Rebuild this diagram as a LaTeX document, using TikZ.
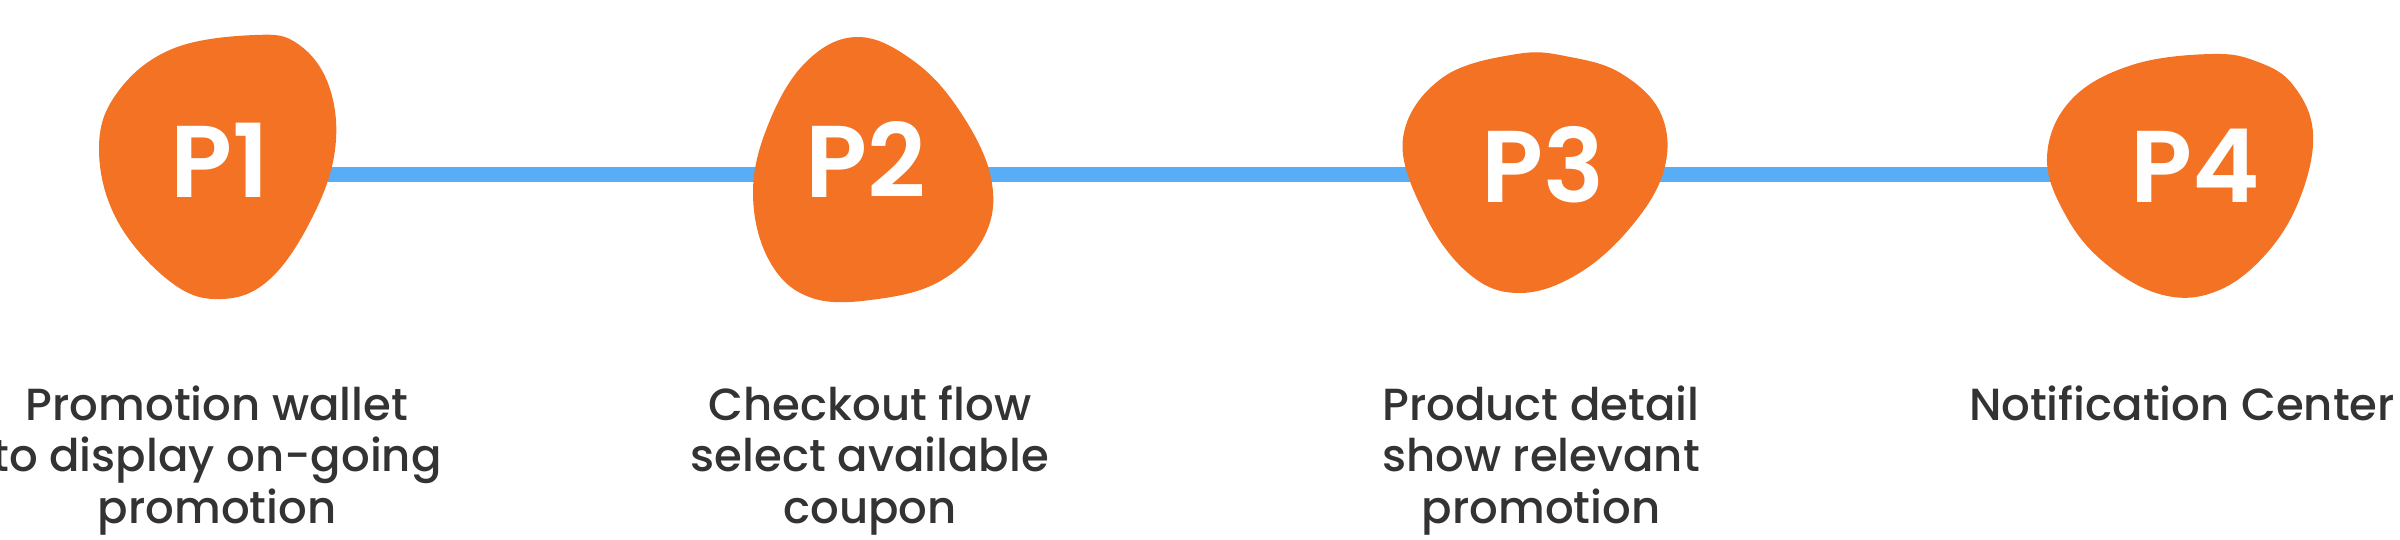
\documentclass[tikz,border=0pt]{standalone}
\usepackage{fontspec}
\setmainfont{Poppins}
\newfontfamily\labelfont{Poppins Medium}
\newfontfamily\pfont{Poppins SemiBold}
\definecolor{blob}{HTML}{F37224}
\definecolor{track}{HTML}{58ADF6}
\definecolor{ink}{HTML}{333333}
\tikzset{
  blobshape/.style={fill=blob, draw=none},
  ptext/.style={text=white, font=\pfont\fontsize{102}{102}\selectfont, inner sep=0pt, anchor=base},
  desc/.style={text=ink, font=\labelfont\fontsize{45}{51.5}\selectfont, align=center, inner sep=0pt, anchor=base},
  trackline/.style={draw=track, line width=15pt}
}
\begin{document}
\begin{tikzpicture}[x=1pt,y=-1pt]
\useasboundingbox (0,0) rectangle (2400,540);
% track
\coordinate (c1) at (220,174.5);
\coordinate (c2) at (866,174.5);
\coordinate (c3) at (1543,174.5);
\coordinate (c4) at (2195,174.5);
\draw[trackline] (c1) -- (c2) -- (c3) -- (c4);
% blobs
\fill[blobshape] plot[smooth cycle, tension=0.65] coordinates {
 (255,35) (172,49) (117,93) (99,150) (118,222) (172,283) (222,299)
 (270,279) (312,218) (335,150) (329,86) (298,44)};
\fill[blobshape] plot[smooth cycle, tension=0.65] coordinates {
 (858,37) (806,62) (768,125) (753,195) (770,262) (812,298) (878,299)
 (942,280) (985,235) (991,178) (961,113) (915,62)};
\fill[blobshape] plot[smooth cycle, tension=0.65] coordinates {
 (1517,54) (1442,78) (1403,138) (1424,213) (1468,273) (1518,293)
 (1576,275) (1630,228) (1664,170) (1661,114) (1622,74) (1570,57)};
\fill[blobshape] plot[smooth cycle, tension=0.65] coordinates {
 (2212,54) (2132,65) (2071,100) (2047,157) (2066,216) (2106,264) (2163,295)
 (2217,291) (2266,254) (2300,198) (2313,133) (2293,85) (2258,62)};
% blob labels
\node[ptext] (p1) at (220,197) {P1};
\node[ptext] (p2) at (866,197) {P2};
\node[ptext] (p3) at (1543,203) {P3};
\node[ptext] (p4) at (2195,203) {P4};
% descriptions
\node[desc] (d1) at (217,523) {Promotion wallet\\to display on-going\\promotion};
\node[desc] (d2) at (870,523) {Checkout flow\\select available\\coupon};
\node[desc] (d3) at (1541,523) {Product detail\\show relevant\\promotion};
\node[desc] (d4) at (2182,420) {Notification Center};
\end{tikzpicture}
\end{document}
